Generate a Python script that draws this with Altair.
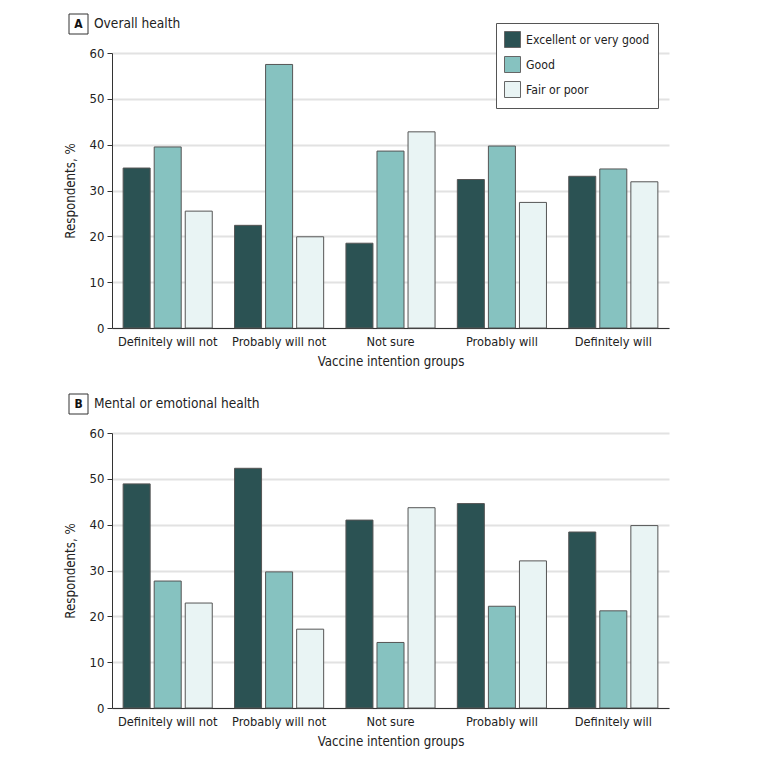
import altair as alt
import pandas as pd

categories = ["Definitely will not", "Probably will not", "Not sure", "Probably will", "Definitely will"]
groups = ["Excellent or very good", "Good", "Fair or poor"]
colors = ["#2b5253", "#86c2c0", "#e9f4f4"]

overall_excellent = [34.9, 22.4, 18.5, 32.4, 33.1]
overall_good = [39.5, 57.5, 38.6, 39.7, 34.7]
overall_fair = [25.5, 19.9, 42.8, 27.4, 31.9]

mental_excellent = [48.9, 52.3, 41.0, 44.6, 38.4]
mental_good = [27.7, 29.7, 14.3, 22.2, 21.2]
mental_fair = [22.9, 17.2, 43.7, 32.1, 39.8]

y_ticks = [0, 10, 20, 30, 40, 50, 60]

FONT = "DejaVu Sans Condensed, sans-serif"


def long_df(ex, gd, fp):
    rows = []
    for i, c in enumerate(categories):
        for g, vals in zip(groups, [ex, gd, fp]):
            rows.append({"intent": c, "health": g, "pct": vals[i]})
    return pd.DataFrame(rows)


def panel(df, letter, title, show_legend):
    if show_legend:
        legend = alt.Legend(
            title=None, orient="none", legendX=384, legendY=-30,
            symbolType="square", symbolSize=256, symbolStrokeColor="#666",
            symbolStrokeWidth=1, labelFontSize=12.2, labelFont=FONT,
            labelColor="#222", rowPadding=4, padding=8, labelOffset=5,
            strokeColor="#555", fillColor="white", labelLimit=300,
        )
    else:
        legend = None
    bars = alt.Chart(df).mark_bar(stroke="#555", strokeWidth=1).encode(
        x=alt.X("intent:N", sort=categories,
                scale=alt.Scale(paddingInner=0.2, paddingOuter=0.1),
                axis=alt.Axis(title="Vaccine intention groups", labelAngle=0, ticks=False,
                              domainColor="#333", labelFontSize=12.7, titleFontSize=13.2,
                              labelFont=FONT, titleFont=FONT, titleFontWeight="normal",
                              labelColor="#222", titleColor="#222",
                              labelPadding=7, titlePadding=8)),
        xOffset=alt.XOffset("health:N", sort=groups, scale=alt.Scale(paddingInner=0.13)),
        y=alt.Y("pct:Q", scale=alt.Scale(domain=[0, 60]),
                axis=alt.Axis(values=y_ticks, title="Respondents, %", grid=True,
                              gridColor="#e2e2e2", gridWidth=2, domainColor="#333",
                              tickColor="#333", tickSize=5, labelFontSize=13,
                              titleFontSize=13.2, labelFont=FONT, titleFont=FONT,
                              titleFontWeight="normal", labelColor="#222",
                              titleColor="#222", labelPadding=3, titlePadding=12)),
        color=alt.Color("health:N", sort=groups,
                        scale=alt.Scale(domain=groups, range=colors), legend=legend),
    )
    lab = pd.DataFrame({"letter": [letter], "title": [title]})
    box = alt.Chart(lab).mark_rect(fill="white", stroke="#333", strokeWidth=1).encode(
        x=alt.value(-43), x2=alt.value(-24), y=alt.value(-39), y2=alt.value(-19))
    ltxt = alt.Chart(lab).mark_text(font=FONT, fontSize=12, fontWeight="bold",
                                    color="#111", align="center", baseline="middle").encode(
        x=alt.value(-33.5), y=alt.value(-29), text="letter:N")
    ttxt = alt.Chart(lab).mark_text(font=FONT, fontSize=13.6, color="#222",
                                    align="left", baseline="middle").encode(
        x=alt.value(-18), y=alt.value(-29), text="title:N")
    return alt.layer(bars, box, ltxt, ttxt).properties(width=557, height=275)


pa = panel(long_df(overall_excellent, overall_good, overall_fair), "A", "Overall health", True)
pb = panel(long_df(mental_excellent, mental_good, mental_fair), "B", "Mental or emotional health", False)

chart = alt.vconcat(pa, pb, spacing=25).properties(
    padding={"left": 55, "top": 5, "right": 5, "bottom": 5}
).configure_view(stroke=None)

chart.save("out.html", embed_options={"renderer": "svg", "actions": False})
